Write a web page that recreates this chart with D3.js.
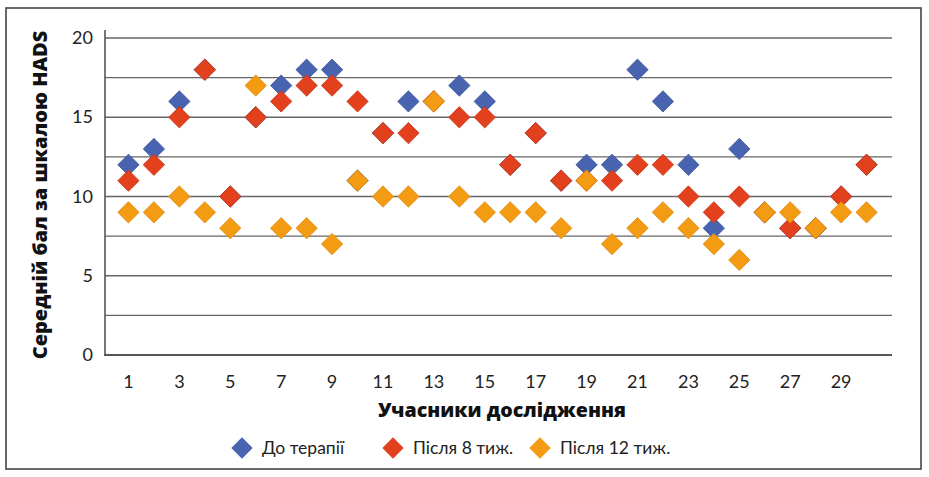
<!DOCTYPE html>
<html>
<head>
<meta charset="utf-8">
<script src="https://cdn.jsdelivr.net/npm/d3@7"></script>
<style>
  body { margin: 0; background: #fff; }
  svg { display: block; }
</style>
</head>
<body>
<svg id="chart" width="929" height="477"></svg>
<script>
// data
const participants = d3.range(1, 31)
const beforeTherapy = [12, 13, 16, 18, 10, 15, 17, 18, 18, 11, 14, 16, 16, 17, 16, 12, 14, 11, 12, 12, 18, 16, 12, 8, 13, 9, 8, 8, 10, 12]
const after8Weeks = [11, 12, 15, 18, 10, 15, 16, 17, 17, 16, 14, 14, 16, 15, 15, 12, 14, 11, 11, 11, 12, 12, 10, 9, 10, 9, 8, 8, 10, 12]
const after12Weeks = [9, 9, 10, 9, 8, 17, 8, 8, 7, 11, 10, 10, 16, 10, 9, 9, 9, 8, 11, 7, 8, 9, 8, 7, 6, 9, 9, 8, 9, 9]
const seriesNames = ['До терапії', 'Після 8 тиж.', 'Після 12 тиж.']
const yTicks = [0, 5, 10, 15, 20]
const yGrid = [0, 2.5, 5, 7.5, 10, 12.5, 15, 17.5, 20]
const xTicks = [1, 3, 5, 7, 9, 11, 13, 15, 17, 19, 21, 23, 25, 27, 29]

const colors = ['#4863b0', '#e3401d', '#f39b12']
const strokes = ['#3d5499', '#c93516', '#e08a0a']

const svg = d3.select('#chart')
const tickFont = 'Lato, "Open Sans", sans-serif'
const boldFont = '"Open Sans", "DejaVu Sans", sans-serif'

//outer frame
svg.append('rect')
    .attr('x', 6).attr('y', 8)
    .attr('width', 915).attr('height', 461)
    .attr('fill', 'none')
    .attr('stroke', '#444')
    .attr('stroke-width', 1.6)

//scales
const x = d3.scaleLinear().domain([0, 31]).range([103, 892])
const y = d3.scaleLinear().domain([0, 20]).range([355, 38])

//gridlines
svg.append('g').selectAll('line')
    .data(yGrid.filter(d => d > 0))
    .enter().append('line')
    .attr('x1', 105).attr('x2', 892)
    .attr('y1', d => y(d)).attr('y2', d => y(d))
    .attr('stroke', '#666')
    .attr('stroke-width', 1.3)

//axes lines
svg.append('line')
    .attr('x1', 105).attr('x2', 105)
    .attr('y1', 30).attr('y2', y(0))
    .attr('stroke', '#555').attr('stroke-width', 1.6)
svg.append('line')
    .attr('x1', 104).attr('x2', 892)
    .attr('y1', y(0)).attr('y2', y(0))
    .attr('stroke', '#555').attr('stroke-width', 1.8)

//y tick labels
svg.append('g').selectAll('text')
    .data(yTicks)
    .enter().append('text')
    .attr('x', 93)
    .attr('y', d => y(d) + 6)
    .attr('text-anchor', 'end')
    .attr('font-family', tickFont)
    .attr('font-size', '18px')
    .attr('fill', '#222')
    .text(d => d)

//x tick labels
svg.append('g').selectAll('text')
    .data(xTicks)
    .enter().append('text')
    .attr('x', d => x(d))
    .attr('y', 388)
    .attr('text-anchor', 'middle')
    .attr('font-family', tickFont)
    .attr('font-size', '18px')
    .attr('fill', '#222')
    .text(d => d)

//axis titles
svg.append('text')
    .attr('transform', 'translate(47, 195) rotate(-90)')
    .attr('text-anchor', 'middle')
    .attr('font-family', boldFont)
    .attr('font-weight', 800)
    .attr('font-size', '20px')
    .attr('fill', '#111')
    .text('Середній бал за шкалою HADS')

svg.append('text')
    .attr('x', 502).attr('y', 417)
    .attr('text-anchor', 'middle')
    .attr('font-family', boldFont)
    .attr('font-weight', 800)
    .attr('font-size', '19.6px')
    .attr('fill', '#111')
    .text('Учасники дослідження')

//markers
const diamond = d3.symbol().type(d3.symbolDiamond2).size(290)
const allSeries = [beforeTherapy, after8Weeks, after12Weeks]
allSeries.forEach((vals, i) => {
    svg.append('g').selectAll('path')
        .data(vals.map((v, j) => ({ p: participants[j], v })))
        .enter().append('path')
        .attr('d', diamond)
        .attr('transform', d => `translate(${x(d.p)}, ${y(d.v)})`)
        .attr('fill', colors[i])
        .attr('stroke', strokes[i])
        .attr('stroke-width', 0.8)
})

//legend
const legendX = [242, 393, 540]
const legend = svg.append('g')
seriesNames.forEach((name, i) => {
    legend.append('path')
        .attr('d', diamond)
        .attr('transform', `translate(${legendX[i]}, 448)`)
        .attr('fill', colors[i])
    legend.append('text')
        .attr('x', legendX[i] + 20)
        .attr('y', 454)
        .attr('font-family', tickFont)
        .attr('font-size', '17.5px')
        .attr('fill', '#222')
        .text(name)
})
</script>
</body>
</html>
